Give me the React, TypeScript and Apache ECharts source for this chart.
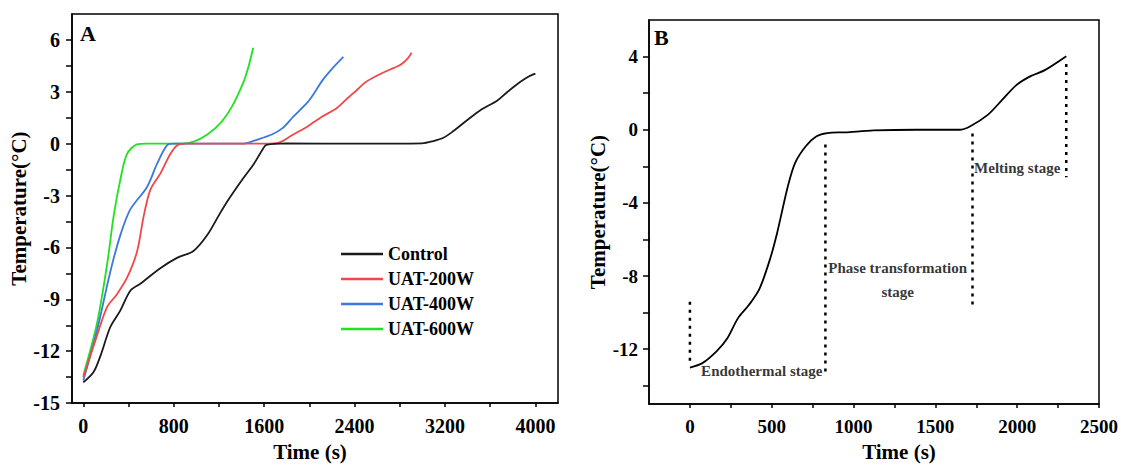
import React, { useEffect, useRef } from "react";
import * as echarts from "echarts";

// ---------- Panel A data ----------
const controlTime = [0, 91, 150, 239, 327, 416, 504, 681, 829, 975, 1095, 1212, 1288, 1415, 1510, 1589, 1620, 1795, 2428, 2997, 3097, 3186, 3274, 3398, 3513, 3664, 3752, 3841, 3929, 4000];
const controlTemp = [-13.8, -13.2, -12.3, -10.6, -9.65, -8.5, -8.1, -7.2, -6.6, -6.2, -5.3, -4.0, -3.2, -2.0, -1.16, -0.3, -0.07, 0.02, 0, 0.02, 0.15, 0.34, 0.73, 1.37, 1.94, 2.5, 2.99, 3.45, 3.84, 4.05];

const uat200Time = [0, 121, 210, 298, 387, 475, 534, 593, 681, 770, 829, 900, 1605, 1731, 1858, 1985, 2111, 2238, 2333, 2428, 2491, 2618, 2744, 2807, 2871, 2905];
const uat200Temp = [-13.5, -11.1, -9.45, -8.7, -7.75, -6.25, -4.2, -2.67, -1.73, -0.6, -0.1, 0, 0, 0.06, 0.53, 1.0, 1.56, 2.03, 2.6, 3.15, 3.53, 4.0, 4.37, 4.56, 4.94, 5.26];

const uat400Time = [0, 121, 239, 327, 416, 564, 652, 740, 800, 1415, 1541, 1668, 1763, 1858, 1985, 2048, 2111, 2206, 2301];
const uat400Temp = [-13.7, -10.8, -7.4, -5.3, -3.8, -2.5, -1.17, -0.1, 0, 0, 0.24, 0.53, 0.9, 1.56, 2.4, 2.97, 3.62, 4.37, 5.02];

const uat600Time = [0, 121, 210, 268, 327, 386, 475, 560, 845, 972, 1098, 1225, 1320, 1415, 1462, 1503];
const uat600Temp = [-13.4, -10.4, -7.0, -4.2, -2.1, -0.6, -0.04, 0, 0, 0.11, 0.53, 1.28, 2.2, 3.53, 4.47, 5.55];

const seriesNamesA = ["Control", "UAT-200W", "UAT-400W", "UAT-600W"];
const seriesColorsA = ["#1a1a1a", "#f04848", "#3a78e0", "#22e022"];

const xTicksA = [0, 400, 800, 1200, 1600, 2000, 2400, 2800, 3200, 3600, 4000];
const xLabelsA = [0, 800, 1600, 2400, 3200, 4000];
const yTicksA = [-15, -13.5, -12, -10.5, -9, -7.5, -6, -4.5, -3, -1.5, 0, 1.5, 3, 4.5, 6];
const yLabelsA = [-15, -12, -9, -6, -3, 0, 3, 6];

// ---------- Panel B data ----------
const bTime = [0, 76, 164, 229, 294, 359, 425, 490, 534, 599, 643, 708, 774, 839, 948, 1123, 1384, 1646, 1711, 1820, 1908, 1995, 2082, 2169, 2300];
const bTemp = [-13.0, -12.76, -12.1, -11.4, -10.3, -9.6, -8.7, -7.06, -5.6, -3.08, -1.81, -0.9, -0.36, -0.18, -0.14, -0.04, 0, 0, 0.18, 0.81, 1.63, 2.44, 2.93, 3.26, 4.02];

const stageLineX = [0, 828, 1727, 2300];
const stageLineTop = [-9.4, -0.8, -0.2, 3.6];
const stageLineBottom = [-12.9, -13.4, -9.8, -2.6];

const stageLabels = ["Endothermal stage", "Phase transformation\nstage", "Melting stage"];
const stageLabelX = [439, 1270, 2000];
const stageLabelY = [-13.2, -8.2, -2.07];

const xTicksB = [0, 250, 500, 750, 1000, 1250, 1500, 1750, 2000, 2250, 2500];
const xLabelsB = [0, 500, 1000, 1500, 2000, 2500];
const yTicksB = [-14, -12, -10, -8, -6, -4, -2, 0, 2, 4];
const yLabelsB = [-12, -8, -4, 0, 4];

const FONT = "'Liberation Serif', 'Times New Roman', serif";

function zip(a: number[], b: number[]) {
  return a.map((v, i) => [v, b[i]]);
}

const plain = (v: number) => String(v);

export default function App() {
  const ref = useRef<HTMLDivElement>(null);
  useEffect(() => {
    document.body.style.margin = "0";
    if (!ref.current) return;
    const chart = echarts.init(ref.current, undefined, { renderer: "svg" });

    const axisCommon = {
      axisLine: { onZero: false, lineStyle: { color: "#000", width: 1.5 } },
      splitLine: { show: false },
      nameTextStyle: { fontFamily: FONT, fontWeight: "bold", fontSize: 21, color: "#000" },
    };
    const labelStyle = { fontFamily: FONT, fontWeight: "bold", fontSize: 20, color: "#000", formatter: plain };

    const seriesA = [
      zip(controlTime, controlTemp),
      zip(uat200Time, uat200Temp),
      zip(uat400Time, uat400Temp),
      zip(uat600Time, uat600Temp),
    ].map((d, i) => ({
      name: seriesNamesA[i],
      type: "line",
      xAxisIndex: 0,
      yAxisIndex: 0,
      data: d,
      smooth: 0.3,
      showSymbol: false,
      symbol: "none",
      lineStyle: { color: seriesColorsA[i], width: 1.8 },
      itemStyle: { color: seriesColorsA[i] },
      z: 10 - i,
    }));

    const stageSeries = stageLineX.map((x, i) => ({
      type: "line",
      xAxisIndex: 1,
      yAxisIndex: 1,
      data: [
        [x, stageLineTop[i]],
        [x, stageLineBottom[i]],
      ],
      symbol: "none",
      silent: true,
      lineStyle: { color: "#000", width: 2.5, type: [3, 5] },
    }));

    const option = {
      animation: false,
      grid: [
        { left: 72, top: 14, width: 486, height: 398, show: true, borderColor: "#000", borderWidth: 1.5 },
        { left: 649, top: 20, width: 451, height: 387, show: true, borderColor: "#000", borderWidth: 1.5 },
      ],
      legend: {
        data: seriesNamesA,
        orient: "vertical",
        left: 336,
        top: 240,
        itemWidth: 42,
        itemHeight: 16,
        itemGap: 7,
        icon: "path://M0,7 L42,7 L42,9.5 L0,9.5 Z",
        textStyle: { fontFamily: FONT, fontWeight: "bold", fontSize: 18, color: "#000" },
      },
      xAxis: [
        {
          ...axisCommon,
          gridIndex: 0,
          type: "value",
          min: -100,
          max: 4200,
          name: "Time (s)",
          nameLocation: "middle",
          nameGap: 36,
          nameTextStyle: { ...axisCommon.nameTextStyle, padding: [0, 10, 0, 0] },
          axisTick: { customValues: xTicksA, length: 4, lineStyle: { color: "#000", width: 1.5 } },
          axisLabel: { customValues: xLabelsA, margin: 13, ...labelStyle },
        },
        {
          ...axisCommon,
          gridIndex: 1,
          type: "value",
          min: -250,
          max: 2500,
          name: "Time (s)",
          nameLocation: "middle",
          nameGap: 32,
          nameTextStyle: { ...axisCommon.nameTextStyle, padding: [0, 0, 0, 50] },
          axisTick: { customValues: xTicksB, length: 4, lineStyle: { color: "#000", width: 1.5 } },
          axisLabel: { customValues: xLabelsB, margin: 13, ...labelStyle, fontSize: 19 },
        },
      ],
      yAxis: [
        {
          ...axisCommon,
          gridIndex: 0,
          type: "value",
          min: -15,
          max: 7.5,
          name: "Temperature(°C)",
          nameLocation: "middle",
          nameGap: 32,
          axisTick: { customValues: yTicksA, length: 6, lineStyle: { color: "#000", width: 1.5 } },
          axisLabel: { customValues: yLabelsA, margin: 12, ...labelStyle },
        },
        {
          ...axisCommon,
          gridIndex: 1,
          type: "value",
          min: -15,
          max: 6,
          name: "Temperature(°C)",
          nameLocation: "middle",
          nameGap: 36,
          axisTick: { customValues: yTicksB, length: 6, lineStyle: { color: "#000", width: 1.5 } },
          axisLabel: { customValues: yLabelsB, margin: 11, ...labelStyle, fontSize: 19 },
        },
      ],
      graphic: [
        { type: "text", left: 80, top: 22, style: { text: "A", fontFamily: FONT, fontWeight: "bold", fontSize: 22, fill: "#000" } },
        { type: "text", left: 654, top: 26, style: { text: "B", fontFamily: FONT, fontWeight: "bold", fontSize: 22, fill: "#000" } },
      ],
      series: [
        ...seriesA,
        {
          type: "line",
          xAxisIndex: 1,
          yAxisIndex: 1,
          data: zip(bTime, bTemp),
          smooth: 0.3,
          symbol: "none",
          lineStyle: { color: "#000", width: 1.8 },
        },
        ...stageSeries,
        {
          type: "scatter",
          xAxisIndex: 1,
          yAxisIndex: 1,
          symbolSize: 0,
          silent: true,
          data: stageLabels.map((t, i) => ({ name: t, value: [stageLabelX[i], stageLabelY[i]] })),
          label: {
            show: true,
            position: "inside",
            formatter: (p: any) => p.name,
            fontFamily: FONT,
            fontWeight: "bold",
            fontSize: 15,
            lineHeight: 24,
            color: "#000",
            align: "center",
            verticalAlign: "middle",
          },
        },
      ],
    };
    chart.setOption(option as any);
    return () => chart.dispose();
  }, []);
  return <div ref={ref} style={{ width: 1121, height: 467 }} />;
}
